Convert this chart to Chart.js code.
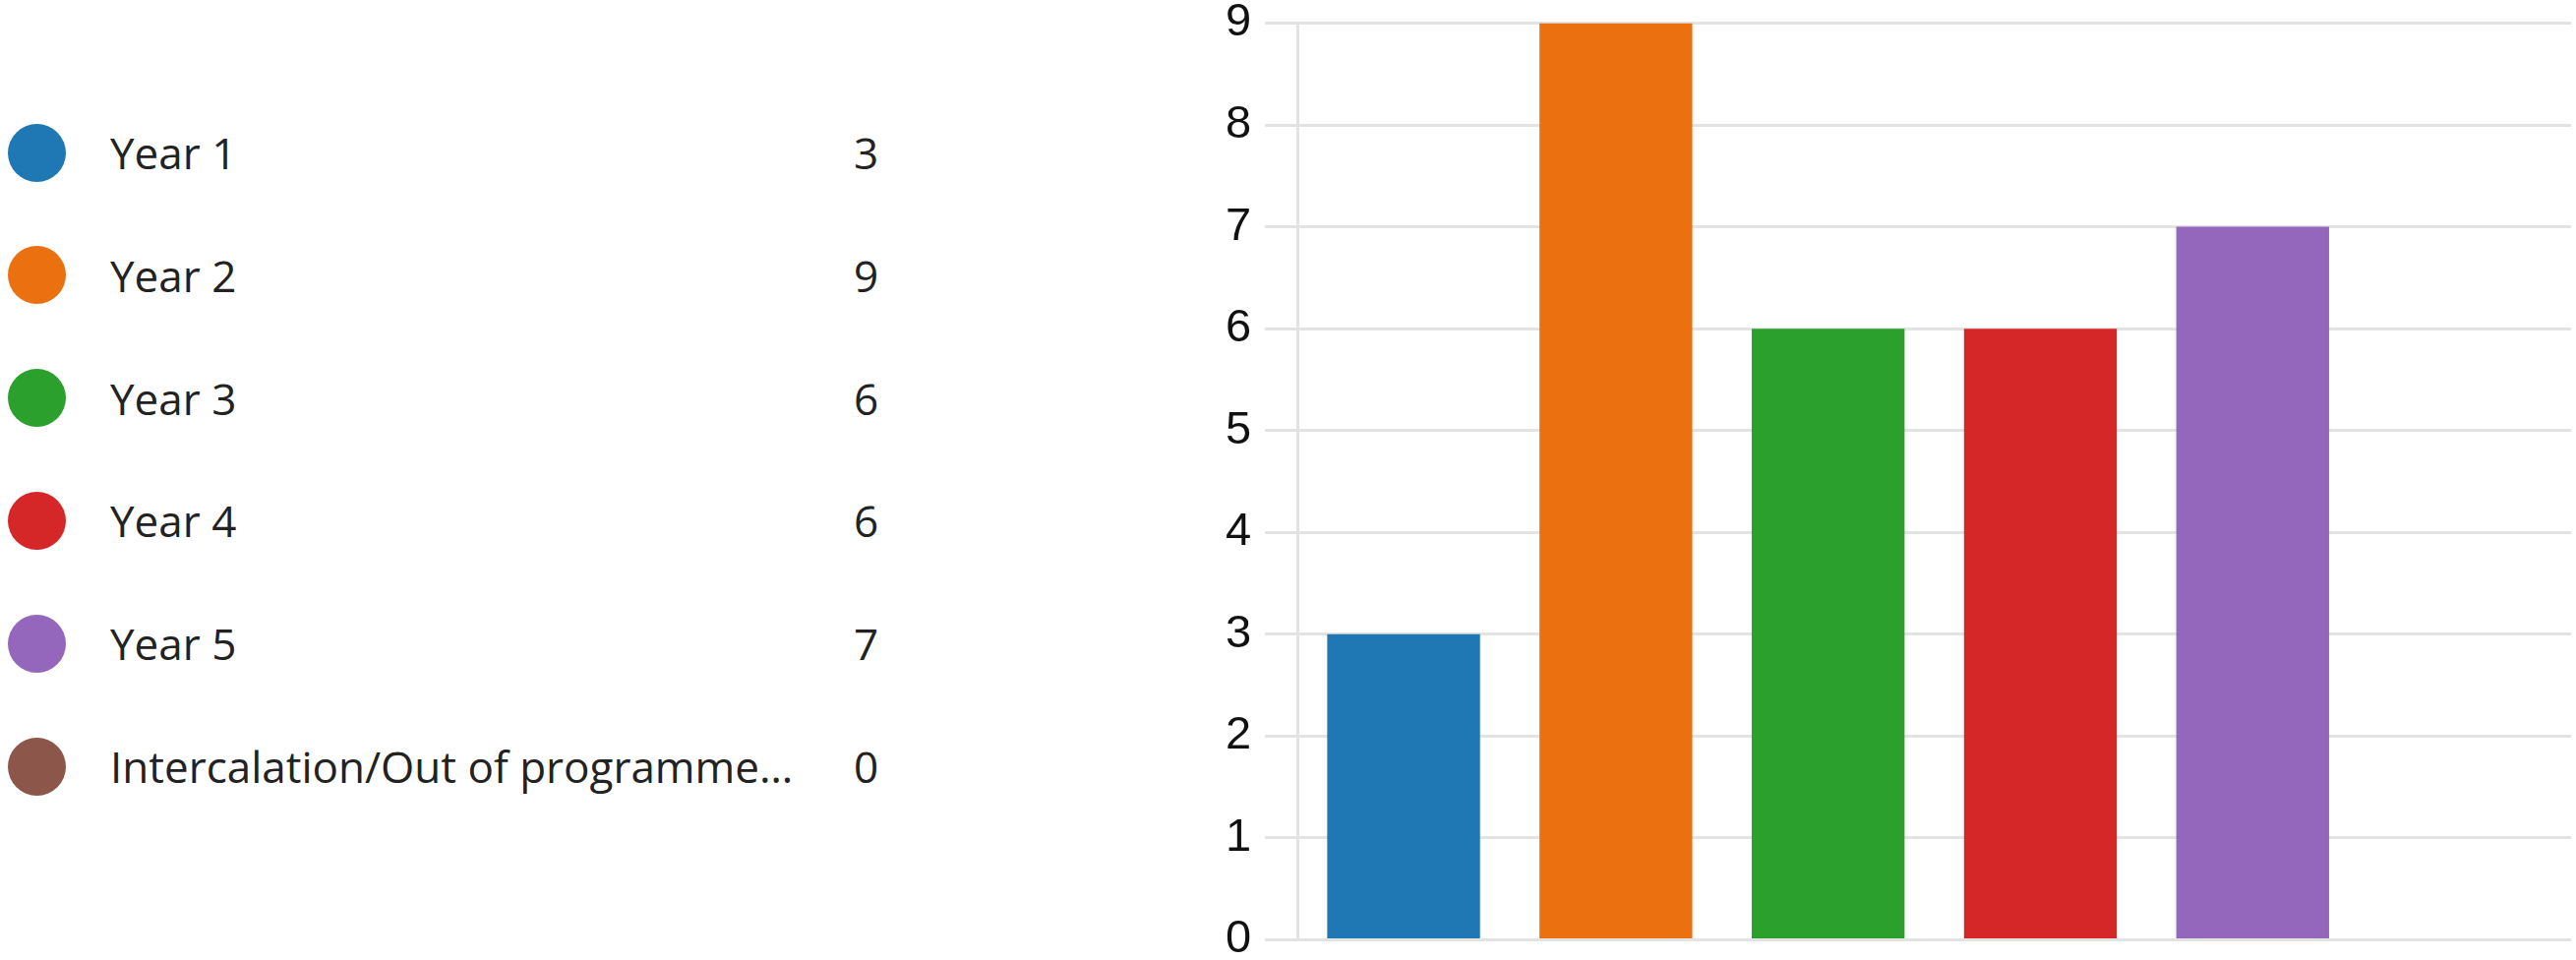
<!DOCTYPE html>
<html>
<head>
<meta charset="utf-8">
<script src="https://cdn.jsdelivr.net/npm/chart.js@4.4.1/dist/chart.umd.min.js"></script>
<style>
  html, body { margin: 0; padding: 0; background: #fff; }
  body { width: 2619px; height: 976px; position: relative; overflow: hidden; }
  #legend { position: absolute; left: 0; top: 0; width: 950px; }
  .row { position: absolute; left: 0; height: 60px; width: 950px; display: flex; align-items: center;
         font-family: "Open Sans", "Noto Sans", sans-serif; font-size: 44px; color: #222; }
  .dot { position: absolute; left: 8px; width: 59px; height: 59px; border-radius: 50%; }
  .name { position: absolute; left: 112px; white-space: nowrap; }
  .val { position: absolute; left: 868px; }
  #wrap { position: absolute; left: 1200px; top: -14px; width: 1419px; height: 1007px; }
</style>
</head>
<body>
<div id="legend"></div>
<div id="wrap"><canvas id="chart"></canvas></div>
<script>
const categories = ['Year 1', 'Year 2', 'Year 3', 'Year 4', 'Year 5', 'Intercalation/Out of programme…'];
const counts = [3, 9, 6, 6, 7, 0];
const colors = ['#1f77b4', '#eb7010', '#2ca02c', '#d62728', '#9467bd', '#8c564b'];
const yTicks = [0, 1, 2, 3, 4, 5, 6, 7, 8, 9];

document.addEventListener('DOMContentLoaded', () => {
  const legend = document.getElementById('legend');
  categories.forEach((name, i) => {
    const row = document.createElement('div');
    row.className = 'row';
    row.style.top = (125 + i * 124.8) + 'px';
    row.innerHTML = '<span class="dot" style="background:' + colors[i] + '"></span>' +
      '<span class="name"></span><span class="val"></span>';
    row.querySelector('.name').textContent = name;
    row.querySelector('.val').textContent = counts[i];
    legend.appendChild(row);
  });

  const ctx = document.getElementById('chart').getContext('2d');
  new Chart(ctx, {
    type: 'bar',
    data: {
      labels: categories,
      datasets: [{ data: counts, backgroundColor: colors, categoryPercentage: 0.8, barPercentage: 0.9 }]
    },
    options: {
      responsive: true,
      maintainAspectRatio: false,
      animation: false,
      events: [],
      layout: { padding: { left: 32, right: 5, top: 0, bottom: 0 } },
      plugins: { legend: { display: false }, tooltip: { enabled: false } },
      scales: {
        x: { display: false },
        y: {
          min: yTicks[0],
          max: yTicks[yTicks.length - 1],
          afterBuildTicks: axis => { axis.ticks = yTicks.map(v => ({ value: v })); },
          ticks: {
            font: { family: '"Liberation Sans", Arial, sans-serif', size: 47, lineHeight: 1 },
            color: '#111',
            padding: 14
          },
          grid: { color: '#e3e3e3', lineWidth: 3, tickLength: 33 },
          border: { color: '#e3e3e3', width: 3 }
        }
      }
    }
  });
});
</script>
</body>
</html>
